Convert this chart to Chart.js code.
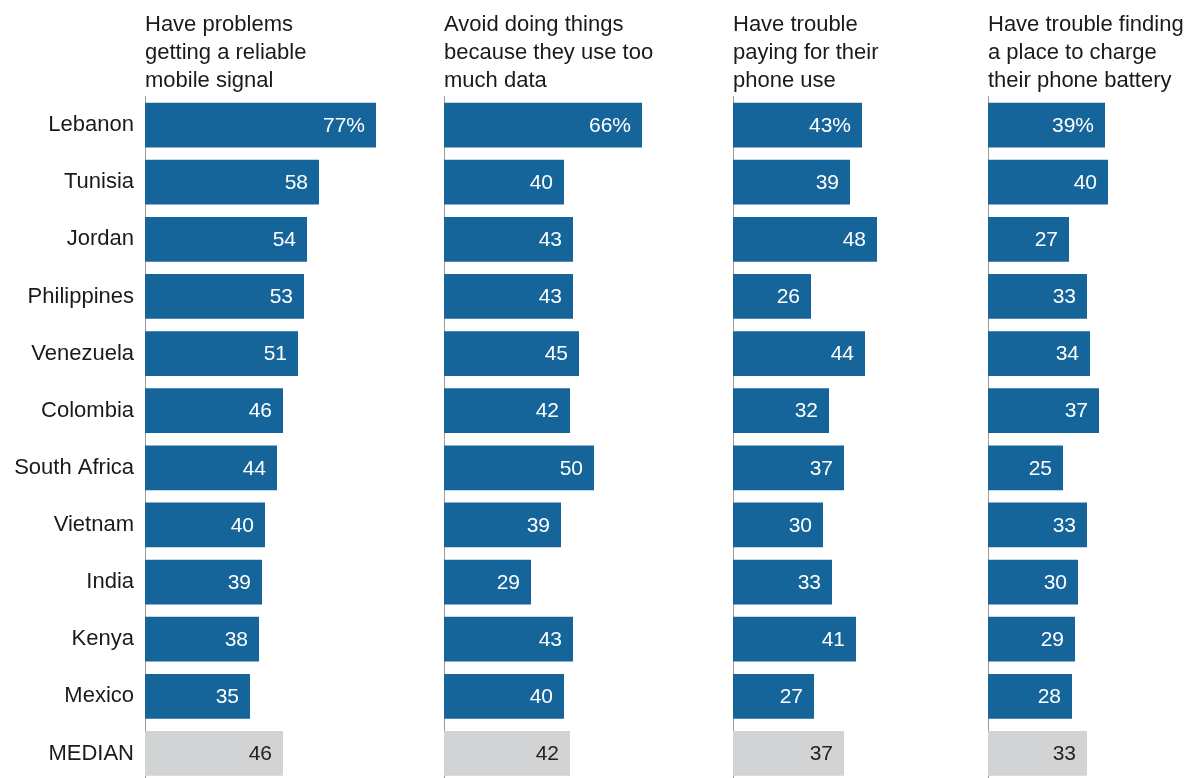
<!DOCTYPE html>
<html>
<head>
<meta charset="utf-8">
<script src="https://cdn.jsdelivr.net/npm/chart.js@4/dist/chart.umd.min.js"></script>
<style>
  html, body { margin: 0; padding: 0; background: #fff; overflow: hidden; }
  body { width: 1194px; height: 778px; position: relative; }
  .panel { position: absolute; top: 0; height: 785px; }
</style>
</head>
<body>
<div class="panel" id="p0"><canvas id="c0"></canvas></div>
<div class="panel" id="p1"><canvas id="c1"></canvas></div>
<div class="panel" id="p2"><canvas id="c2"></canvas></div>
<div class="panel" id="p3"><canvas id="c3"></canvas></div>
<script>
// Countries (last row is the median across countries)
const categories = ['Lebanon', 'Tunisia', 'Jordan', 'Philippines', 'Venezuela', 'Colombia',
  'South Africa', 'Vietnam', 'India', 'Kenya', 'Mexico', 'MEDIAN'];

// % of mobile phone users who ...
const unreliableSignal = [77, 58, 54, 53, 51, 46, 44, 40, 39, 38, 35, 46];
const avoidDataUse     = [66, 40, 43, 43, 45, 42, 50, 39, 29, 43, 40, 42];
const troublePaying    = [43, 39, 48, 26, 44, 32, 37, 30, 33, 41, 27, 37];
const troubleCharging  = [39, 40, 27, 33, 34, 37, 25, 33, 30, 29, 28, 33];

const panelTitles = [
  ['Have problems', 'getting a reliable', 'mobile signal'],
  ['Avoid doing things', 'because they use too', 'much data'],
  ['Have trouble', 'paying for their', 'phone use'],
  ['Have trouble finding', 'a place to charge', 'their phone battery']
];

const FONT = "'Liberation Sans', Arial, sans-serif";
const BLUE = '#15659b';
const GREY = '#d2d3d5';
const PX_PER_UNIT = 3;

// axis x position, width reserved for the y axis, plot width
const panels = [
  { series: unreliableSignal, axisX: 145, yWidth: 145, plotW: 290, showLabels: true },
  { series: avoidDataUse,     axisX: 444, yWidth: 8,   plotW: 285, showLabels: false },
  { series: troublePaying,    axisX: 733, yWidth: 8,   plotW: 250, showLabels: false },
  { series: troubleCharging,  axisX: 988, yWidth: 8,   plotW: 206, showLabels: false }
];

// Value labels drawn just inside the end of each bar
const valueLabels = {
  id: 'valueLabels',
  afterDatasetsDraw(chart) {
    const ctx = chart.ctx;
    const ds = chart.data.datasets[0];
    const meta = chart.getDatasetMeta(0);
    const last = ds.data.length - 1;
    ctx.save();
    ctx.font = '21px ' + FONT;
    ctx.textAlign = 'right';
    ctx.textBaseline = 'middle';
    meta.data.forEach((bar, i) => {
      const v = ds.data[i];
      ctx.fillStyle = i === last ? '#222222' : '#ffffff';
      ctx.fillText(i === 0 ? v + '%' : String(v), bar.x - 11, bar.y + 1);
    });
    ctx.restore();
  }
};

panels.forEach((p, k) => {
  const wrap = document.getElementById('p' + k);
  wrap.style.left = (p.axisX - p.yWidth) + 'px';
  wrap.style.width = (p.yWidth + p.plotW) + 'px';

  new Chart(document.getElementById('c' + k), {
    type: 'bar',
    data: {
      labels: categories,
      datasets: [{
        data: p.series,
        backgroundColor: p.series.map((_, i) => i === p.series.length - 1 ? GREY : BLUE),
        borderWidth: 0,
        categoryPercentage: 1,
        barPercentage: 0.782
      }]
    },
    options: {
      indexAxis: 'y',
      responsive: true,
      maintainAspectRatio: false,
      animation: false,
      layout: { padding: { top: 0, bottom: 3, left: 0, right: 0 } },
      plugins: {
        legend: { display: false },
        tooltip: { enabled: false },
        title: {
          display: true,
          text: panelTitles[k],
          align: 'start',
          fullSize: false,
          color: '#1a1a1a',
          font: { family: FONT, size: 22, weight: 'normal', lineHeight: 28 / 22 },
          padding: { top: 11, bottom: 1.5 }
        }
      },
      scales: {
        x: {
          display: false,
          min: 0,
          max: p.plotW / PX_PER_UNIT
        },
        y: {
          afterFit(scale) {
            scale.width = p.yWidth;
            // keep the category bands spanning the full plot height
            scale.paddingTop = 0;
            scale.paddingBottom = 0;
          },
          grid: { display: false, drawTicks: false },
          border: { display: true, color: '#9b9b9b', width: 1 },
          ticks: {
            display: p.showLabels,
            padding: 11,
            color: '#1a1a1a',
            font: { family: FONT, size: 22 }
          }
        }
      }
    },
    plugins: [valueLabels]
  });
});
</script>
</body>
</html>
